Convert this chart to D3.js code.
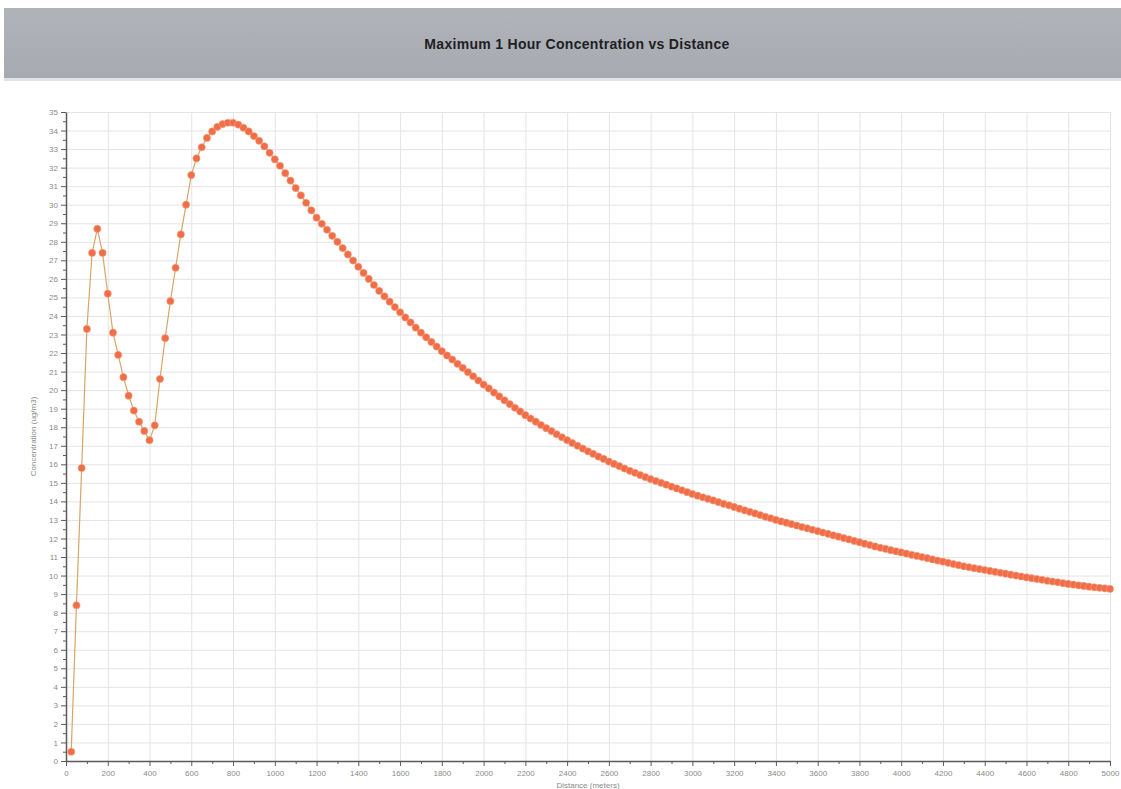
<!DOCTYPE html>
<html>
<head>
<meta charset="utf-8">
<script src="https://cdn.jsdelivr.net/npm/d3@7"></script>
<style>
  body { margin: 0; background: #fff; }
  svg { display: block; font-family: "Liberation Sans", Arial, sans-serif; }
  .axis path, .axis line { stroke: #5a5a5a; }
  .axis text { fill: #8a8a8a; font-size: 8px; }
  .grid line { stroke: #e4e4e4; }
  .grid path { display: none; }
</style>
</head>
<body>
<div id="chart"></div>
<script>
// chart text
var chartTitle = 'Maximum 1 Hour Concentration vs Distance'
var xLabel = 'Distance (meters)'
var yLabel = 'Concentration (ug/m3)'

// distance (m)
var distances = [
  25, 50, 75, 100, 125, 150, 175, 200, 225, 250, 275, 300, 325, 350, 375, 400, 425, 450, 475, 500,
  525, 550, 575, 600, 625, 650, 675, 700, 725, 750, 775, 800, 825, 850, 875, 900, 925, 950, 975, 1000,
  1025, 1050, 1075, 1100, 1125, 1150, 1175, 1200, 1225, 1250, 1275, 1300, 1325, 1350, 1375, 1400, 1425, 1450, 1475, 1500,
  1525, 1550, 1575, 1600, 1625, 1650, 1675, 1700, 1725, 1750, 1775, 1800, 1825, 1850, 1875, 1900, 1925, 1950, 1975, 2000,
  2025, 2050, 2075, 2100, 2125, 2150, 2175, 2200, 2225, 2250, 2275, 2300, 2325, 2350, 2375, 2400, 2425, 2450, 2475, 2500,
  2525, 2550, 2575, 2600, 2625, 2650, 2675, 2700, 2725, 2750, 2775, 2800, 2825, 2850, 2875, 2900, 2925, 2950, 2975, 3000,
  3025, 3050, 3075, 3100, 3125, 3150, 3175, 3200, 3225, 3250, 3275, 3300, 3325, 3350, 3375, 3400, 3425, 3450, 3475, 3500,
  3525, 3550, 3575, 3600, 3625, 3650, 3675, 3700, 3725, 3750, 3775, 3800, 3825, 3850, 3875, 3900, 3925, 3950, 3975, 4000,
  4025, 4050, 4075, 4100, 4125, 4150, 4175, 4200, 4225, 4250, 4275, 4300, 4325, 4350, 4375, 4400, 4425, 4450, 4475, 4500,
  4525, 4550, 4575, 4600, 4625, 4650, 4675, 4700, 4725, 4750, 4775, 4800, 4825, 4850, 4875, 4900, 4925, 4950, 4975, 5000
]

// max 1 hour concentration (ug/m3)
var concentrations = [
  0.5, 8.4, 15.8, 23.3, 27.4, 28.7, 27.4, 25.2, 23.1, 21.9, 20.7, 19.7, 18.9, 18.3, 17.8, 17.3, 18.1, 20.6, 22.8, 24.8,
  26.6, 28.4, 30.0, 31.6, 32.5, 33.1, 33.6, 33.95, 34.2, 34.35, 34.42, 34.42, 34.32, 34.15, 33.95, 33.7, 33.45, 33.15, 32.8, 32.45,
  32.1, 31.7, 31.3, 30.9, 30.5, 30.1, 29.7, 29.3, 28.97, 28.65, 28.32, 28.0, 27.66, 27.32, 26.99, 26.65, 26.32, 26.0, 25.67, 25.35,
  25.06, 24.77, 24.48, 24.2, 23.92, 23.65, 23.37, 23.1, 22.85, 22.6, 22.35, 22.1, 21.87, 21.65, 21.42, 21.2, 20.97, 20.75, 20.52, 20.3,
  20.09, 19.87, 19.66, 19.45, 19.25, 19.05, 18.85, 18.65, 18.47, 18.3, 18.12, 17.95, 17.79, 17.62, 17.46, 17.3, 17.15, 17.0, 16.85, 16.7,
  16.56, 16.42, 16.29, 16.15, 16.02, 15.9, 15.77, 15.65, 15.54, 15.42, 15.31, 15.2, 15.1, 15.0, 14.9, 14.8, 14.7, 14.6, 14.5, 14.4,
  14.31, 14.22, 14.14, 14.05, 13.96, 13.87, 13.79, 13.7, 13.61, 13.52, 13.44, 13.35, 13.26, 13.17, 13.09, 13.0, 12.92, 12.85, 12.77, 12.7,
  12.62, 12.55, 12.47, 12.4, 12.32, 12.25, 12.17, 12.1, 12.02, 11.95, 11.87, 11.8, 11.72, 11.65, 11.57, 11.5, 11.44, 11.37, 11.31, 11.25,
  11.19, 11.12, 11.06, 11.0, 10.94, 10.87, 10.81, 10.75, 10.69, 10.62, 10.56, 10.5, 10.45, 10.4, 10.35, 10.3, 10.25, 10.2, 10.15, 10.1,
  10.05, 10.0, 9.95, 9.9, 9.86, 9.81, 9.77, 9.72, 9.68, 9.64, 9.59, 9.55, 9.51, 9.47, 9.44, 9.4, 9.37, 9.34, 9.31, 9.28
]

// axis ticks
var xTicks = [0, 200, 400, 600, 800, 1000, 1200, 1400, 1600, 1800, 2000, 2200, 2400, 2600, 2800, 3000,
  3200, 3400, 3600, 3800, 4000, 4200, 4400, 4600, 4800, 5000]
var yTicks = [0, 1, 2, 3, 4, 5, 6, 7, 8, 9, 10, 11, 12, 13, 14, 15, 16, 17, 18, 19, 20,
  21, 22, 23, 24, 25, 26, 27, 28, 29, 30, 31, 32, 33, 34, 35]

var width = 1121
var height = 789
var margin = { top: 112, right: 11, bottom: 28, left: 66 }

var data = distances.map((d, i) => ({ x: d, y: concentrations[i] }))

var svg = d3.select('#chart')
  .append('svg')
  .attr('width', width)
  .attr('height', height)

// header band
var grad = svg.append('defs')
  .append('linearGradient')
  .attr('id', 'hdr')
  .attr('x1', 0).attr('y1', 0).attr('x2', 0).attr('y2', 1)
grad.append('stop').attr('offset', '0%').attr('stop-color', '#b0b3b8')
grad.append('stop').attr('offset', '100%').attr('stop-color', '#a7aab0')

svg.append('rect')
  .attr('x', 4)
  .attr('y', 8)
  .attr('width', width - 4)
  .attr('height', 70)
  .attr('fill', 'url(#hdr)')
svg.append('rect')
  .attr('x', 4)
  .attr('y', 78)
  .attr('width', width - 4)
  .attr('height', 3)
  .attr('fill', '#e2e3e5')

svg.append('text')
  .attr('x', 577)
  .attr('y', 49)
  .attr('text-anchor', 'middle')
  .style('font-size', '14px')
  .style('font-weight', 'bold')
  .style('letter-spacing', '0.3px')
  .style('fill', '#1e1e24')
  .text(chartTitle)

var xScale = d3.scaleLinear()
  .domain([0, 5000])
  .range([margin.left, width - margin.right])

var yScale = d3.scaleLinear()
  .domain([0, 35])
  .range([height - margin.bottom, margin.top])

// grid
svg.append('g')
  .attr('class', 'grid')
  .attr('transform', `translate(0,${height - margin.bottom})`)
  .call(d3.axisBottom(xScale)
    .tickValues(xTicks)
    .tickSize(-(height - margin.top - margin.bottom))
    .tickFormat(''))

svg.append('g')
  .attr('class', 'grid')
  .attr('transform', `translate(${margin.left},0)`)
  .call(d3.axisLeft(yScale)
    .tickValues(yTicks)
    .tickSize(-(width - margin.left - margin.right))
    .tickFormat(''))

// minor ticks
svg.append('g')
  .attr('class', 'axis')
  .attr('transform', `translate(0,${height - margin.bottom})`)
  .call(d3.axisBottom(xScale)
    .tickValues(xTicks.slice(0, -1).map(d => d + 100))
    .tickSize(3)
    .tickFormat(''))
  .select('.domain').remove()

svg.append('g')
  .attr('class', 'axis')
  .attr('transform', `translate(${margin.left},0)`)
  .call(d3.axisLeft(yScale)
    .tickValues(yTicks.slice(0, -1).map(d => d + 0.5))
    .tickSize(3)
    .tickFormat(''))
  .select('.domain').remove()

// axes
svg.append('g')
  .attr('class', 'axis x-axis')
  .attr('transform', `translate(0,${height - margin.bottom})`)
  .call(d3.axisBottom(xScale)
    .tickValues(xTicks)
    .tickSize(5)
    .tickSizeOuter(0)
    .tickPadding(4)
    .tickFormat(d3.format('d')))
  .select('.domain')
  .style('stroke-width', 1.5)

svg.append('g')
  .attr('class', 'axis y-axis')
  .attr('transform', `translate(${margin.left},0)`)
  .call(d3.axisLeft(yScale)
    .tickValues(yTicks)
    .tickSize(5)
    .tickSizeOuter(0)
    .tickPadding(3))
  .select('.domain')
  .style('stroke-width', 1.5)

svg.append('text')
  .attr('x', (margin.left + width - margin.right) / 2)
  .attr('y', 788)
  .attr('text-anchor', 'middle')
  .style('font-size', '8px')
  .style('fill', '#8a8a8a')
  .text(xLabel)

svg.append('text')
  .attr('transform', `translate(36,${(margin.top + height - margin.bottom) / 2}) rotate(-90)`)
  .attr('text-anchor', 'middle')
  .style('font-size', '8px')
  .style('fill', '#8a8a8a')
  .text(yLabel)

// series
var line = d3.line()
  .x(d => xScale(d.x))
  .y(d => yScale(d.y))

svg.append('path')
  .datum(data)
  .attr('d', line)
  .attr('fill', 'none')
  .attr('stroke', '#d9a46a')
  .attr('stroke-width', 1.2)

svg.selectAll('.dot')
  .data(data)
  .enter()
  .append('circle')
  .attr('class', 'dot')
  .attr('cx', d => xScale(d.x))
  .attr('cy', d => yScale(d.y))
  .attr('r', 3.6)
  .style('fill', '#ef6d48')
  .style('stroke', '#f7a07a')
  .style('stroke-width', 0.6)
</script>
</body>
</html>
